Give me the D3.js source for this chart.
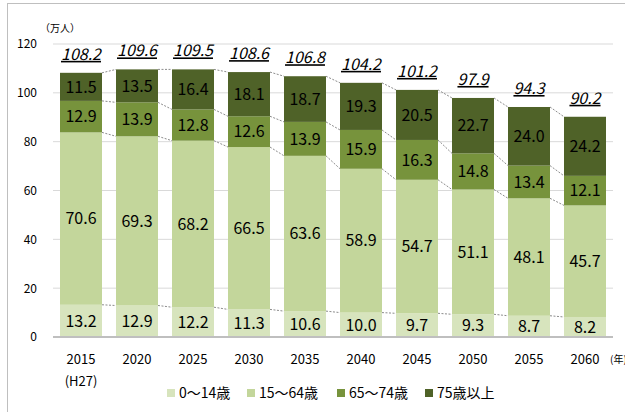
<!DOCTYPE html>
<html>
<head>
<meta charset="utf-8">
<script src="https://cdn.jsdelivr.net/npm/d3@7"></script>
<style>
  body { margin: 0; background: #fff; }
  svg text { font-family: "Noto Sans CJK JP", "Noto Sans", sans-serif; fill: #000; }
</style>
</head>
<body>
<div id="chart"></div>
<script>
const years = ["2015", "2020", "2025", "2030", "2035", "2040", "2045", "2050", "2055", "2060"]
const seriesNames = ["0～14歳", "15～64歳", "65～74歳", "75歳以上"]
const age0to14 = [13.2, 12.9, 12.2, 11.3, 10.6, 10.0, 9.7, 9.3, 8.7, 8.2]
const age15to64 = [70.6, 69.3, 68.2, 66.5, 63.6, 58.9, 54.7, 51.1, 48.1, 45.7]
const age65to74 = [12.9, 13.9, 12.8, 12.6, 13.9, 15.9, 16.3, 14.8, 13.4, 12.1]
const age75plus = [11.5, 13.5, 16.4, 18.1, 18.7, 19.3, 20.5, 22.7, 24.0, 24.2]
const totals = [108.2, 109.6, 109.5, 108.6, 106.8, 104.2, 101.2, 97.9, 94.3, 90.2]
const yTicks = [0, 20, 40, 60, 80, 100, 120]

const colors = ["#d7e4bd", "#c3d69b", "#77933c", "#4f6228"]

const margin = { top: 44, right: 12, bottom: 75, left: 53 }
const width = 625 - margin.left - margin.right
const height = 412 - margin.top - margin.bottom

const root = d3.select("#chart").append("svg")
    .attr("width", 625)
    .attr("height", 412)

// outer frame of the chart
root.append("rect")
  .attr("x", 7.5).attr("y", 3.5)
  .attr("width", 640).attr("height", 440)
  .attr("fill", "none")
  .attr("stroke", "#bfbfbf")

const svg = root.append("g")
    .attr("transform", "translate(" + margin.left + "," + margin.top + ")")

const xPositionScale = d3.scaleBand()
  .domain(years)
  .range([0, width])
  .paddingInner(0.25)
  .paddingOuter(0.125)

const yPositionScale = d3.scaleLinear()
  .domain([0, 120])
  .range([height, 0])

// gridlines
svg.selectAll(".grid")
  .data(yTicks.filter(d => d > 0))
  .join("line")
  .attr("class", "grid")
  .attr("x1", 0).attr("x2", width)
  .attr("y1", d => yPositionScale(d)).attr("y2", d => yPositionScale(d))
  .attr("stroke", "#d9d9d9")
  .attr("stroke-width", 1)

const yAxis = d3.axisLeft(yPositionScale).tickValues(yTicks).tickSize(0).tickPadding(16)
svg.append("g")
  .attr("class", "axis y-axis")
  .call(yAxis)
  .call(g => g.select(".domain").remove())
  .selectAll("text")
  .style("font-size", "12px")

svg.append("text")
  .attr("x", -13).attr("y", -12)
  .style("font-size", "10px")
  .text("（万人）")

// stacked data
const rows = years.map((y, i) => ({
  year: y,
  s0: age0to14[i], s1: age15to64[i], s2: age65to74[i], s3: age75plus[i]
}))
const keys = ["s0", "s1", "s2", "s3"]
const stacked = d3.stack().keys(keys)(rows)

// dotted connector lines between bars
stacked.forEach(layer => {
  for (let i = 0; i < layer.length - 1; i++) {
    svg.append("line")
      .attr("x1", xPositionScale(years[i]) + xPositionScale.bandwidth())
      .attr("x2", xPositionScale(years[i + 1]))
      .attr("y1", yPositionScale(layer[i][1]))
      .attr("y2", yPositionScale(layer[i + 1][1]))
      .attr("stroke", "#8c8c8c")
      .attr("stroke-width", 1)
      .style("stroke-dasharray", "2,1.5")
  }
})

const layers = svg.selectAll(".layer")
  .data(stacked)
  .join("g")
  .attr("class", "layer")
  .attr("fill", (d, i) => colors[i])

layers.selectAll("rect")
  .data(d => d)
  .join("rect")
  .attr("x", d => xPositionScale(d.data.year))
  .attr("width", xPositionScale.bandwidth())
  .attr("y", d => yPositionScale(d[1]))
  .attr("height", d => yPositionScale(d[0]) - yPositionScale(d[1]))

layers.selectAll("text")
  .data((d, li) => d.map(v => ({ v: v, key: keys[li] })))
  .join("text")
  .attr("x", d => xPositionScale(d.v.data.year) + xPositionScale.bandwidth() / 2)
  .attr("y", d => yPositionScale((d.v[0] + d.v[1]) / 2))
  .attr("dy", "0.36em")
  .attr("text-anchor", "middle")
  .style("font-size", "16px")
  .style("fill", "#000")
  .text(d => d.v.data[d.key].toFixed(1))

// baseline
svg.append("line")
  .attr("x1", 0).attr("x2", width)
  .attr("y1", yPositionScale(0)).attr("y2", yPositionScale(0))
  .attr("stroke", "#bfbfbf")
  .attr("stroke-width", 2)

// totals
svg.selectAll(".total")
  .data(totals)
  .join("text")
  .attr("class", "total")
  .attr("x", (d, i) => xPositionScale(years[i]) + xPositionScale.bandwidth() / 2)
  .attr("y", (d, i) => yPositionScale(stacked[3][i][1]) - 13)
  .attr("text-anchor", "middle")
  .style("font-size", "16px")
  .style("font-style", "italic")
  .style("text-decoration", "underline")
  .text(d => d.toFixed(1))

// x labels
svg.selectAll(".xlabel")
  .data(years)
  .join("text")
  .attr("class", "xlabel")
  .attr("x", d => xPositionScale(d) + xPositionScale.bandwidth() / 2)
  .attr("y", height + 27)
  .attr("text-anchor", "middle")
  .style("font-size", "13px")
  .text(d => d)

svg.append("text")
  .attr("x", xPositionScale(years[0]) + xPositionScale.bandwidth() / 2)
  .attr("y", height + 49)
  .attr("text-anchor", "middle")
  .style("font-size", "13px")
  .text("(H27)")

svg.append("text")
  .attr("x", width - 3)
  .attr("y", height + 26)
  .style("font-size", "10px")
  .text("(年)")

// legend
const legendX = [167, 247, 337, 425]
const legend = root.selectAll(".legend")
  .data(seriesNames)
  .join("g")
  .attr("class", "legend")
  .attr("transform", (d, i) => "translate(" + legendX[i] + ",389)")

legend.append("rect")
  .attr("width", 8).attr("height", 8)
  .attr("fill", (d, i) => colors[i])

legend.append("text")
  .attr("x", 12).attr("y", 4)
  .attr("dy", "0.36em")
  .style("font-size", "14px")
  .text(d => d)
</script>
</body>
</html>
